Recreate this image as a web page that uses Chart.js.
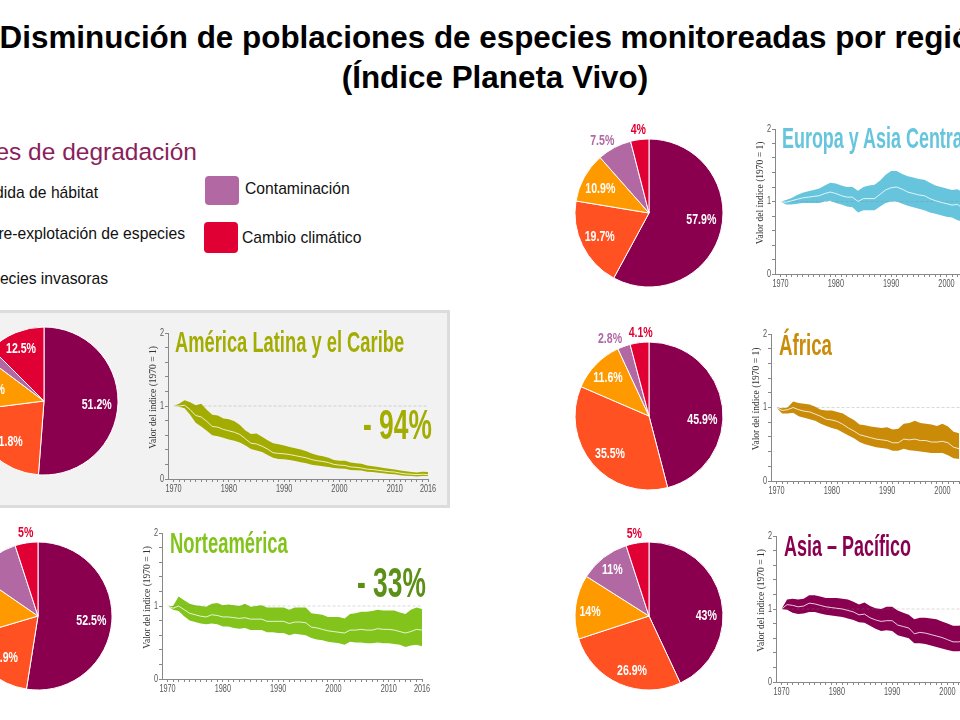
<!DOCTYPE html>
<html lang="es">
<head>
<meta charset="utf-8">
<title>Disminución de poblaciones</title>
<script src="https://cdn.jsdelivr.net/npm/chart.js@4/dist/chart.umd.min.js"></script>
<style>
html,body{margin:0;padding:0;background:#fff;width:960px;height:720px;overflow:hidden}
#stage{position:relative;width:960px;height:720px;overflow:hidden;font-family:"Liberation Sans",Arial,sans-serif}
#stage canvas{position:absolute;display:block}
.t{position:absolute;white-space:nowrap;line-height:1.15}
.main{left:-15px;width:1020px;text-align:center;font-weight:bold;font-size:31.4px;color:#000}
.head{font-weight:bold;transform-origin:0 50%}
.lg{font-size:15.7px;color:#111}
.sw{position:absolute;border-radius:4px}
#panel{position:absolute;left:-10px;top:310px;width:454px;height:192px;background:#f2f2f2;border:3px solid #dcdcdc}
</style>
</head>
<body>
<div id="stage">
  <div id="panel"></div>
  <div class="t main" style="top:20px">Disminución de poblaciones de especies monitoreadas por región</div>
  <div class="t main" style="top:60px">(Índice Planeta Vivo)</div>

  <div class="t" id="lgTitle" style="right:763px;top:138px;font-size:24.5px;color:#8a1f5c">Fuentes de degradación</div>
  <div class="t lg" style="right:862px;top:184px">Pérdida de hábitat</div>
  <div class="t lg" style="right:775px;top:225px">Sobre-explotación de especies</div>
  <div class="t lg" style="right:852px;top:270px">Especies invasoras</div>
  <div class="sw" style="left:205px;top:176px;width:34px;height:29px;background:#b168a3"></div>
  <div class="t lg" style="left:245px;top:180px">Contaminación</div>
  <div class="sw" style="left:204px;top:222px;width:34px;height:31px;background:#e10033"></div>
  <div class="t lg" style="left:242px;top:229px">Cambio climático</div>
</div>
<script>
// ---------- Categories and slice values ----------
const causes = ["Pérdida de hábitat", "Sobre-explotación de especies", "Especies invasoras", "Contaminación", "Cambio climático"];
const latamShares  = [51.2, 21.8, 12.2, 2.3, 12.5];
const norteShares  = [52.5, 17.9, 14.2, 10.4, 5];
const europaShares = [57.9, 19.7, 10.9, 7.5, 4];
const africaShares = [45.9, 35.5, 11.6, 2.8, 4.1];
const asiaShares   = [43, 26.9, 14, 11, 5];

// ---------- Index series (1970 = 1) ----------
const years = [1970,1971,1972,1973,1974,1975,1976,1977,1978,1979,1980,1981,1982,1983,1984,1985,1986,1987,1988,1989,1990,1991,1992,1993,1994,1995,1996,1997,1998,1999,2000,2001,2002,2003,2004,2005,2006,2007,2008,2009,2010,2011,2012,2013,2014,2015,2016];
const xLabels = [1970,1980,1990,2000,2010,2016];
const yLabels = [0,1,2];

const latamUpper = [1,1.03,1.08,1.05,1.01,1.03,.95,.88,.87,.83,.82,.79,.74,.665,.615,.625,.58,.53,.49,.475,.46,.44,.42,.405,.38,.35,.325,.31,.29,.26,.25,.25,.225,.215,.21,.185,.175,.165,.15,.14,.13,.115,.105,.095,.09,.1,.095];
const latamLower = [1,.99,.97,.88,.77,.72,.66,.6,.585,.565,.54,.525,.5,.46,.41,.39,.37,.33,.29,.275,.27,.26,.245,.23,.215,.195,.185,.175,.165,.15,.145,.14,.125,.12,.115,.1,.095,.085,.08,.07,.065,.05,.045,.04,.035,.04,.04];
const latamCenter = [1,1,1.01,.95,.87,.85,.79,.72,.71,.68,.66,.64,.61,.55,.49,.48,.45,.41,.36,.35,.345,.335,.32,.305,.29,.265,.25,.24,.225,.2,.19,.185,.165,.16,.15,.135,.13,.12,.11,.1,.095,.08,.07,.065,.06,.065,.06];

const norteUpper = [1,1,1.13,1.08,1.03,1.01,1,.99,1.03,1.04,1.01,1.02,1.01,1,1.03,.99,1,1.01,.98,.98,.98,.98,.95,.98,.98,.98,.9,.89,.88,.85,.85,.85,.83,.89,.9,.92,.92,.93,.95,.94,.94,.94,.91,.89,.95,.98,.96];
const norteLower = [1,.95,.93,.86,.8,.78,.76,.75,.76,.75,.72,.72,.7,.69,.7,.67,.67,.67,.64,.64,.63,.63,.6,.62,.61,.6,.56,.54,.53,.51,.5,.49,.47,.51,.5,.5,.49,.49,.5,.49,.49,.48,.47,.44,.46,.47,.45];
const norteCenter = [1,.97,1,.95,.9,.88,.86,.85,.88,.87,.85,.85,.84,.83,.84,.82,.82,.82,.79,.79,.79,.79,.76,.78,.78,.77,.71,.7,.68,.66,.65,.64,.63,.67,.67,.68,.67,.67,.69,.68,.68,.67,.65,.63,.65,.68,.67];

const europaUpper = [1,1.02,1.05,1.09,1.12,1.14,1.16,1.18,1.22,1.26,1.25,1.22,1.2,1.2,1.15,1.2,1.22,1.23,1.29,1.37,1.42,1.42,1.38,1.35,1.33,1.31,1.3,1.26,1.22,1.2,1.18,1.16,1.17,1.12];
const europaLower = [1,.96,.96,.97,.98,.98,.98,.98,1,1.01,.98,.96,.93,.92,.85,.88,.88,.88,.93,.98,1,1,.97,.94,.92,.9,.88,.85,.83,.81,.79,.78,.74,.72];
const europaCenter = [1,.99,1.01,1.03,1.05,1.06,1.07,1.08,1.11,1.13,1.11,1.08,1.06,1.06,1,1.04,1.04,1.04,1.1,1.16,1.19,1.2,1.17,1.13,1.11,1.09,1.08,1.04,1.01,.99,.97,.95,.96,.9];

const africaUpper = [1,.99,1,1.08,1.06,1.05,1.04,1.01,.97,.96,.96,.94,.92,.87,.83,.77,.76,.74,.73,.72,.73,.7,.71,.78,.79,.82,.79,.78,.77,.75,.78,.74,.67,.65];
const africaLower = [1,.92,.92,.93,.88,.86,.84,.82,.78,.75,.72,.7,.66,.62,.58,.53,.5,.48,.46,.45,.44,.41,.41,.44,.42,.41,.4,.39,.38,.38,.38,.35,.31,.3];
const africaCenter = [1,.96,.97,1,.97,.95,.94,.91,.88,.84,.83,.81,.77,.72,.68,.63,.61,.59,.57,.56,.55,.52,.52,.57,.56,.57,.55,.55,.53,.53,.54,.52,.46,.44];

const asiaUpper = [1,1.13,1.14,1.13,1.14,1.19,1.19,1.17,1.15,1.15,1.15,1.14,1.13,1.1,1.06,1.09,1.04,1.01,1,1.03,1.03,.98,.95,.92,.86,.88,.88,.87,.86,.83,.8,.77,.77,.78];
const asiaLower = [1,.99,.95,.93,.94,.96,.96,.94,.92,.91,.9,.89,.87,.85,.82,.81,.77,.73,.7,.71,.7,.64,.62,.6,.53,.53,.52,.5,.48,.46,.44,.42,.42,.43];
const asiaCenter = [1,1.06,1.05,1.03,1.04,1.08,1.07,1.05,1.03,1.02,1.01,1,.98,.96,.92,.93,.88,.85,.83,.84,.84,.78,.76,.74,.66,.68,.67,.65,.63,.61,.58,.55,.55,.56];

// ---------- Styles ----------
const sliceColors = ["#8a004f","#ff5122","#ff9900","#b168a3","#e10033"];
const yAxisTitle = "Valor del índice (1970 = 1)";
const sans = '"Liberation Sans",sans-serif';
const serif = '"Liberation Serif",serif';
const condense = 0.73;        // horizontal squeeze of sans text on the canvases
const titleShift = 8.5;       // axis title sits above the plot's middle
const stage = document.getElementById("stage");

function addCanvas(left, top, w, h){
  const c = document.createElement("canvas");
  c.width = w; c.height = h;
  c.style.left = left + "px"; c.style.top = top + "px";
  c.style.width = w + "px"; c.style.height = h + "px";
  stage.appendChild(c);
  const ctx = c.getContext("2d");
  const fill = ctx.fillText.bind(ctx);
  ctx.fillText = function(text, x, y, maxW){
    if (ctx.font.includes("Serif")) { fill(text, x + titleShift, y + 1.5, maxW); return; }
    ctx.save();
    ctx.translate(x, y);
    ctx.scale(condense, 1);
    fill(text, 0, 0);
    ctx.restore();
  };
  return c;
}

const sliceLabelPlugin = {
  id: "sliceLabels",
  afterDatasetsDraw(chart, args, opts){
    const ctx = chart.ctx, arcs = chart.getDatasetMeta(0).data;
    const values = chart.data.datasets[0].data;
    ctx.save();
    ctx.font = 'bold 14.5px ' + sans;
    ctx.textAlign = "center";
    ctx.textBaseline = "middle";
    arcs.forEach((arc, i) => {
      const off = opts.offsets[i];
      const outside = Math.hypot(off[0], off[1]) > arc.outerRadius;
      ctx.fillStyle = outside ? sliceColors[i] : "#fff";
      ctx.fillText(values[i] + "%", arc.x + off[0], arc.y + off[1]);
    });
    ctx.restore();
  }
};

function pie(cx, cy, r, values, offsets){
  const size = 210;
  new Chart(addCanvas(Math.round(cx - size/2), Math.round(cy - size/2), size, size), {
    type: "pie",
    data: { labels: causes, datasets: [{ data: values, backgroundColor: sliceColors, borderColor: "#fff", borderWidth: 1 }] },
    options: {
      responsive: false, animation: false, radius: r,
      layout: { padding: 0 },
      plugins: { legend: { display: false }, tooltip: { enabled: false }, sliceLabels: { offsets } }
    },
    plugins: [sliceLabelPlugin]
  });
}

function band(x1970, y0, y2, pxPerYear, color, upper, lower, center){
  const axisX = x1970 - pxPerYear;
  const leftPad = 22, topPad = 5, rightPad = 16, bottomPad = 20;
  const plotW = pxPerYear * 47, plotH = y0 - y2;
  const pts = arr => arr.map((v, i) => ({ x: years[i], y: v }));
  const canvas = addCanvas(Math.round(axisX - leftPad), Math.round(y2 - topPad),
                           Math.round(leftPad + plotW + rightPad), Math.round(topPad + plotH + bottomPad));
  new Chart(canvas, {
    type: "line",
    data: { datasets: [
      { data: pts(upper), borderWidth: 0, pointRadius: 0, tension: 0, backgroundColor: color, borderColor: color, fill: "+1" },
      { data: pts(lower), borderWidth: 0, pointRadius: 0, tension: 0, borderColor: color, fill: false },
      { data: pts(center), borderWidth: 1, pointRadius: 0, tension: 0, borderColor: "rgba(255,255,255,.8)", fill: false },
      { data: [{x: years[0], y: 1}, {x: years[years.length-1], y: 1}], borderWidth: 1, pointRadius: 0, borderDash: [3,2], borderColor: "rgba(130,130,130,.3)", fill: false }
    ]},
    options: {
      responsive: false, animation: false,
      layout: { padding: { top: topPad, right: rightPad, left: 0, bottom: 0 } },
      plugins: { legend: { display: false }, tooltip: { enabled: false }, filler: { drawTime: "beforeDatasetsDraw" } },
      scales: {
        x: {
          type: "linear", min: 1969, max: 2016,
          afterBuildTicks: s => { s.ticks = years.map(v => ({ value: v })); },
          afterFit: s => { s.height = bottomPad; },
          border: { color: "#888", width: 1 },
          grid: { drawOnChartArea: false, color: "#888", tickLength: 3 },
          ticks: { autoSkip: false, maxRotation: 0, padding: 1, color: "#555", font: { family: sans, size: 10 },
            callback: v => xLabels.includes(v) ? String(v) : "" }
        },
        y: {
          min: 0, max: 2,
          afterBuildTicks: s => { s.ticks = [0,.2,.4,.6,.8,1,1.2,1.4,1.6,1.8,2].map(v => ({ value: v })); },
          afterFit: s => { s.width = leftPad; },
          border: { color: "#888", width: 1 },
          grid: { drawOnChartArea: false, color: "#888", tickLength: 3 },
          ticks: { autoSkip: false, padding: 1, color: "#555", font: { family: sans, size: 10 },
            callback: v => yLabels.includes(v) ? String(v) : "" },
          title: { display: true, text: yAxisTitle, color: "#333", padding: 0, font: { family: serif, size: 9.5 } }
        }
      }
    }
  });
}

function heading(text, left, baseline, size, width, color){
  const el = document.createElement("div");
  el.className = "t head";
  el.textContent = text;
  el.style.fontSize = size + "px";
  el.style.color = color;
  el.style.left = left + "px";
  el.style.top = (baseline - size * 0.92) + "px";
  stage.appendChild(el);
  el.style.transform = "scaleX(" + (width / el.offsetWidth) + ")";
}

// ---------- Pies ----------
pie(44, 401, 74, latamShares,  [[52.7,4.3],[-36.3,41],[-54,-10.7],[-72,-62],[-23,-52.3]]);
pie(38, 616, 74, norteShares,  [[53.3,5],[-35,42.3],[-58,-3],[-56,-50],[-12.3,-82.7]]);
pie(648.5, 212.7, 74, europaShares, [[52.3,6.7],[-49.3,24.3],[-48.7,-24.3],[-46.7,-72.3],[-10.7,-83.3]]);
pie(648.5, 416, 74, africaShares,   [[53.3,4.3],[-39,38.3],[-41,-38.3],[-39,-77],[-8.3,-82.7]]);
pie(648.5, 615.7, 74, asiaShares,   [[57.3,.3],[-17,55.3],[-59,-4],[-36.7,-46.3],[-14.7,-82.3]]);

// ---------- Index bands ----------
band(173.3, 478.3, 330.7, 5.53, "#a3ac00", latamUpper, latamLower, latamCenter);
band(167.7, 679, 530.7, 5.53, "#82c41c", norteUpper, norteLower, norteCenter);
band(781, 274, 126.7, 5.53, "#66c5dd", europaUpper, europaLower, europaCenter);
band(777, 480.3, 331.7, 5.53, "#c98b08", africaUpper, africaLower, africaCenter);
band(781.7, 682.3, 534, 5.53, "#8a0050", asiaUpper, asiaLower, asiaCenter);

// ---------- Region headings ----------
heading("América Latina y el Caribe", 175, 352.7, 30, 229, "#a3ac00");
heading("- 94%", 362.7, 440, 42, 69, "#a3ac00");
heading("Norteamérica", 170, 554, 30, 118, "#82c41c");
heading("- 33%", 356.7, 598, 42, 69, "#5b8f16");
heading("Europa y Asia Central", 782, 149, 30, 186, "#66c5dd");
heading("África", 779, 355.7, 30, 53, "#c98b08");
heading("Asia – Pacífico", 784, 557, 30, 127, "#8a0050");
</script>
</body>
</html>
